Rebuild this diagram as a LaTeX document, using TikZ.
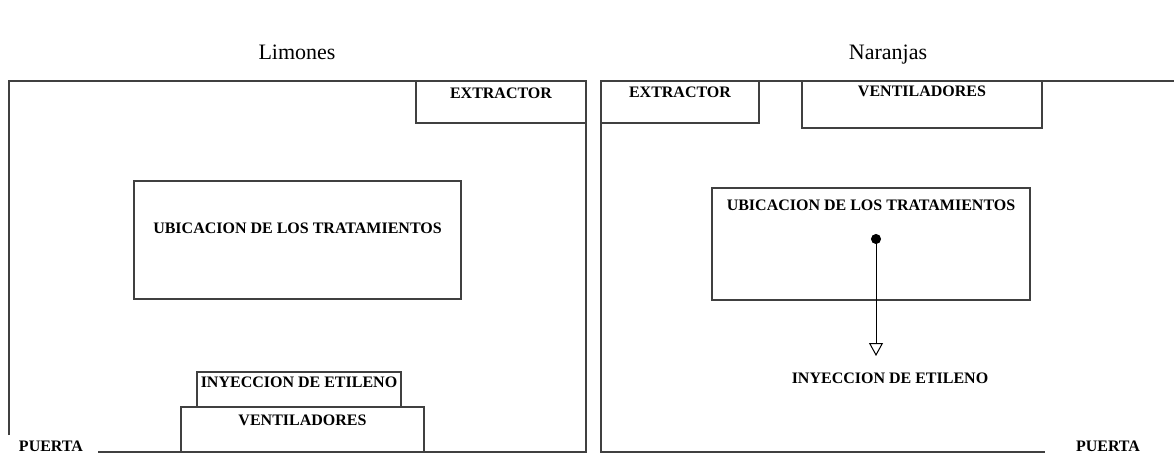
\documentclass[tikz,border=0pt]{standalone}
\usepackage{fontspec}
\setmainfont{Liberation Serif}
\usetikzlibrary{arrows.meta,positioning,calc}
\tikzset{%
	wall/.style     = {draw=black!75, line width=1.2pt},
	box/.style      = {draw=black!75, line width=1.2pt, rectangle, inner sep=0pt},
	tag/.style      = {font=\bfseries\fontsize{16}{16}\selectfont, inner sep=0pt},
	title/.style    = {font=\fontsize{22}{24}\selectfont, inner sep=0pt, anchor=base},
	flow/.style     = {black, line width=1pt, {Circle[length=10pt]}-{Triangle[open,width=14pt,length=13pt]}},
}
\begin{document}
\begin{tikzpicture}[x=1pt,y=-1pt]
	\useasboundingbox (0,0) rectangle (1174,454);
	% titulos
	\node [title] (tl) at (297,60) {Limones};
	\node [title] (tn) at (888,60) {Naranjas};
	
	% camara de limones
	\draw [wall] (9,435) -- (9,81) -- (586,81) -- (586,452) -- (98,452);
	\node [box, minimum width=170pt, minimum height=42pt] (exl) at (501,102) {};
	\node [tag] at ($ (exl.north)+(0,13) $) {EXTRACTOR};
	\node [box, minimum width=327pt, minimum height=118pt] (ubl) at (297.5,240) {};
	\node [tag] at ($ (ubl.center)+(0,-12) $) {UBICACION DE LOS TRATAMIENTOS};
	\node [box, minimum width=204pt, minimum height=35pt] (inl) at (299,389.5) {};
	\node [tag] at ($ (inl.north)+(0,11) $) {INYECCION DE ETILENO};
	\node [box, minimum width=243pt, minimum height=45pt] (vel) at (302.5,429.5) {};
	\node [tag] at ($ (vel.north)+(0,14) $) {VENTILADORES};
	\node [tag] (pl) at (51,446) {PUERTA};
	
	% camara de naranjas
	\draw [wall] (1174,81) -- (601,81) -- (601,452) -- (1045,452);
	\node [box, minimum width=158pt, minimum height=42pt] (exn) at (680,102) {};
	\node [tag] at ($ (exn.north)+(0,12) $) {EXTRACTOR};
	\node [box, minimum width=240pt, minimum height=47pt] (ven) at (922,104.5) {};
	\node [tag] at ($ (ven.north)+(0,11) $) {VENTILADORES};
	\node [box, minimum width=318pt, minimum height=112pt] (ubn) at (871,244) {};
	\node [tag] at ($ (ubn.north)+(0,18) $) {UBICACION DE LOS TRATAMIENTOS};
	\coordinate (src) at (876,234);
	\node [tag] (inn) at (890,378) {INYECCION DE ETILENO};
	\coordinate (dst) at (src |- 0,356);
	\node [tag] (pn) at (1108,446) {PUERTA};
	
	\draw [flow] (src) -- (dst);
\end{tikzpicture}
\end{document}
